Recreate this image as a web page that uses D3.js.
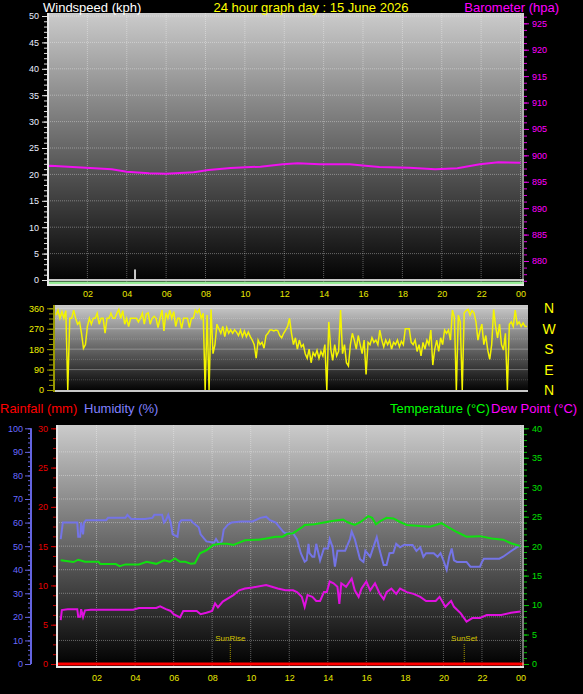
<!DOCTYPE html>
<html>
<head>
<meta charset="utf-8">
<script src="https://cdn.jsdelivr.net/npm/d3@7"></script>
<style>
  body { margin: 0; background: #000; }
  svg { display: block; font-family: "Liberation Sans", Arial, sans-serif; }
</style>
</head>
<body>
<div id="canvas"></div>
<script>
// ---- data ----
const title = "24 hour graph day : 15 June 2026";
const hourTicks = [2, 4, 6, 8, 10, 12, 14, 16, 18, 20, 22, 24];
const windTicks = [0, 5, 10, 15, 20, 25, 30, 35, 40, 45, 50];
const baroTicks = [880, 885, 890, 895, 900, 905, 910, 915, 920, 925];
const dirTicks = [0, 90, 180, 270, 360];
const compass = ["N", "W", "S", "E", "N"];
const compassDeg = [360, 270, 180, 90, 0];
const humTicks = [0, 10, 20, 30, 40, 50, 60, 70, 80, 90, 100];
const rainTicks = [0, 5, 10, 15, 20, 25, 30];
const tempTicks = [0, 5, 10, 15, 20, 25, 30, 35, 40];

// [hour, hPa]
const barometer = [[0,898.0],[0.13,898.05],[1.92,897.67],[3.24,897.35],[4.0,896.91],[5.13,896.6],[5.98,896.53],
  [7.4,896.79],[8.15,897.23],[9.28,897.6],[10.04,897.73],[10.79,897.86],[11.92,898.3],[12.68,898.49],
  [13.81,898.3],[15.32,898.3],[16.26,897.98],[16.83,897.79],[18.35,897.67],[19.67,897.35],[20.79,897.54],
  [21.93,898.3],[22.87,898.68],[24,898.61]];
// [hour, kph]
const windGust = [[4.42, 2]];
const windAvgHours = [0, 24];
const windAvg = [0, 0];

// wind direction, one value every 0.1 h (degrees)
const dirStep = 0.1;
const windDir = [
  330,352,316,345,316,350,0,316,316,352,
  316,290,300,250,184,200,280,316,290,316,
  316,338,290,316,316,250,316,316,338,316,
  316,338,355,316,350,290,316,280,316,316,
  316,316,300,316,338,290,335,340,290,316,
  325,316,275,316,352,260,340,316,352,316,
  345,280,316,316,270,316,316,316,275,316,
  316,352,340,355,316,338,0,330,0,355,
  160,200,290,270,250,280,235,275,250,265,
  250,265,255,240,264,235,260,235,255,235,
  220,200,140,220,200,210,184,240,250,264,
  264,260,264,262,240,230,250,264,280,316,
  250,200,230,180,220,190,200,160,140,180,
  120,165,150,175,140,170,150,200,0,300,
  180,130,200,150,170,352,160,200,120,106,
  200,250,220,180,240,200,160,220,68,210,
  200,230,210,220,200,264,220,190,220,200,
  220,180,210,200,220,190,215,200,270,270,
  270,210,200,220,170,200,150,210,180,220,
  200,264,110,180,220,170,230,200,264,250,
  264,220,352,320,0,330,300,0,340,350,
  355,330,350,340,300,220,260,290,200,240,
  176,135,200,355,280,230,290,200,176,250,
  0,290,300,280,352,290,300,280,295,280,
  280];

// [hour, %]
const humidity = [[0.14,53],[0.25,60],[0.5,60],[0.8,60],[1.0,60],[1.05,54],[1.15,54],[1.2,60],[1.3,55],[1.35,60],
  [1.45,61],[2.0,61],[2.5,61],[2.6,62],[3.5,62],[3.6,63.3],[3.8,61.5],[4.5,61.5],[4.9,62],[5.0,63.3],[5.4,63.3],
  [5.5,60],[5.6,61],[5.72,63.3],[5.85,60],[5.95,55],[6.2,54],[6.3,60],[6.4,61],[6.9,61],[7.0,60],[7.3,58],
  [7.4,55],[7.7,52],[8.1,51.5],[8.2,53],[8.35,51],[8.5,52],[8.6,57],[8.8,59],[9.0,60],[9.5,60.5],[10.1,60.5],
  [10.5,62],[10.8,62.5],[11.0,61],[11.3,60],[11.5,58],[11.7,56],[11.8,55.5],[12.2,55.5],[12.4,53],[12.6,47],
  [12.8,43.4],[12.9,44],[13.0,51],[13.05,47],[13.2,45.5],[13.3,45.5],[13.4,51],[13.6,43.9],[13.8,49],[14.0,49],
  [14.1,53],[14.25,49.5],[14.37,41.3],[14.5,48],[14.9,48],[15.15,53],[15.24,56.2],[15.4,53],[15.67,44.5],
  [15.85,43.3],[15.95,48],[16.2,45.5],[16.36,49.5],[16.54,53.8],[16.7,48],[16.9,42],[17.05,42],[17.2,47],
  [17.4,47.2],[17.55,51],[17.75,49.5],[17.95,50.5],[18.4,50.5],[18.6,48],[18.8,49.5],[18.96,45.5],[19.1,47],
  [19.5,47],[19.7,45.5],[19.85,47],[20.0,44],[20.17,40],[20.3,45.5],[20.43,49],[20.55,44],[20.7,43.3],
  [21.2,43.3],[21.4,41.3],[21.9,41.3],[22.0,43.3],[22.1,44.7],[22.9,44.7],[23.1,45.5],[23.46,47.6],[23.8,49.5],[24,50.3]];
// [hour, °C]
const temperature = [[0.14,17.6],[0.8,17.3],[1.05,17.7],[1.4,17.35],[2.1,17.35],[2.2,16.95],[3.0,16.95],[3.2,16.6],
  [3.5,16.9],[4.2,16.9],[4.6,17.35],[5.1,17.0],[5.5,17.6],[5.8,17.35],[6.07,17.9],[6.33,17.35],[6.6,17.35],
  [6.9,17.0],[7.1,17.1],[7.37,18.8],[7.7,19.3],[8.06,20.2],[8.4,20.4],[8.8,20.4],[9.1,20.2],[9.4,20.6],[9.7,21.0],
  [10.4,21.1],[10.8,21.3],[11.3,21.6],[11.65,21.6],[11.9,22.1],[12.2,22.2],[12.7,23.3],[12.8,23.6],[13.3,23.7],
  [13.95,24.1],[14.3,24.3],[14.8,24.5],[15.0,24.1],[15.4,23.6],[15.7,24.1],[16.1,25.1],[16.3,24.8],[16.5,23.7],
  [16.75,24.3],[17.05,24.8],[17.4,24.7],[17.75,24.1],[18.1,23.6],[18.8,23.4],[19.3,23.3],[19.9,23.9],[20.2,23.3],
  [20.7,22.4],[21.2,21.6],[21.9,21.7],[22.5,21.3],[23.1,21.1],[23.5,20.5],[24,20.0]];
const dewPoint = [[0.14,7.46],[0.2,9.15],[0.5,9.3],[1.0,9.3],[1.05,8.0],[1.15,8.0],[1.2,9.3],[1.3,8.0],[1.4,9.1],
  [1.7,9.2],[3.9,9.2],[4.2,9.5],[5.1,9.5],[5.3,9.8],[5.6,9.3],[5.85,9.0],[6.0,8.45],[6.33,7.9],[6.5,9.0],[7.2,9.0],
  [7.4,8.45],[7.7,8.7],[8.0,9.0],[8.15,10.3],[8.3,9.6],[8.55,10.6],[9.1,11.7],[9.4,12.5],[9.7,12.8],[10.1,13.0],
  [10.8,13.4],[11.1,13.1],[11.4,12.8],[11.8,12.5],[12.2,12.5],[12.4,12.2],[12.65,11.4],[12.8,9.7],[12.95,11.7],
  [13.2,11.4],[13.4,10.7],[13.6,10.7],[13.8,12.2],[13.95,12.2],[14.1,14.0],[14.3,13.7],[14.5,13.1],[14.6,10.2],
  [14.7,13.7],[14.95,13.1],[15.24,14.5],[15.4,12.5],[15.6,11.4],[15.75,12.8],[16.0,14.0],[16.2,12.5],[16.45,13.7],
  [16.7,11.9],[16.9,11.0],[17.05,12.2],[17.3,12.8],[17.55,11.9],[17.75,12.8],[18.1,12.2],[18.45,11.9],[18.8,11.4],
  [19.1,10.7],[19.6,10.7],[19.8,11.4],[20.1,9.7],[20.3,10.4],[20.4,10.7],[20.55,9.7],[20.9,8.6],[21.2,7.2],
  [21.5,7.8],[21.9,7.8],[22.25,8.3],[23.0,8.3],[23.5,8.7],[24,8.9]];
const rainHours = [0, 24];
const rainfall = [0, 0];
const sunEvents = ["SunRise", "SunSet"];
const sunHours = [8.94, 21.08];

// ---- page ----
const width = 583;
const height = 694;

const svg = d3.select("#canvas").append("svg")
  .attr("width", width)
  .attr("height", height)
  .style("background", "#000");

const grad = svg.append("defs").append("linearGradient")
  .attr("id", "bg").attr("x1", 0).attr("y1", 0).attr("x2", 0).attr("y2", 1);
grad.append("stop").attr("offset", "0%").attr("stop-color", "#cbcbcb");
grad.append("stop").attr("offset", "100%").attr("stop-color", "#000");

const hourFmt = h => String(h % 24).padStart(2, "0");

function styleAxis(g, color, lineColor) {
  g.select(".domain").remove();
  g.selectAll("line").attr("stroke", lineColor || color);
  g.selectAll("text").attr("fill", color).style("font-size", "9px");
}

function gridH(g, scale, vals, x0, x1, op) {
  g.append("g").selectAll("line").data(vals).enter().append("line")
    .attr("x1", x0).attr("x2", x1)
    .attr("y1", d => scale(d)).attr("y2", d => scale(d))
    .attr("stroke", "#fff").attr("stroke-opacity", op || 0.35)
    .attr("stroke-dasharray", "1,1");
}
function gridV(g, scale, vals, y0, y1) {
  g.append("g").selectAll("line").data(vals).enter().append("line")
    .attr("y1", y0).attr("y2", y1)
    .attr("x1", d => scale(d)).attr("x2", d => scale(d))
    .attr("stroke", "#fff").attr("stroke-opacity", 0.35)
    .attr("stroke-dasharray", "1,1");
}
function label(txt, x, y, color, anchor, size) {
  svg.append("text").attr("x", x).attr("y", y).attr("fill", color)
    .attr("text-anchor", anchor || "start").style("font-size", (size || 13) + "px").text(txt);
}

// ========== top panel: wind + barometer ==========
const xTop = d3.scaleLinear().domain([0, 24]).range([48, 520.5]);
const yWind = d3.scaleLinear().domain([0, 50]).range([280, 16]);
const yBaro = d3.scaleLinear().domain([880, 925]).range([261, 23.3]);

const topG = svg.append("g");
topG.append("rect").attr("x", 48).attr("y", 13).attr("width", 476).attr("height", 271).attr("fill", "url(#bg)");
gridH(topG, yWind, windTicks.slice(1), 48, 524);
gridV(topG, xTop, hourTicks, 13, 284);

topG.append("line").attr("x1", 48).attr("x2", 524).attr("y1", yWind(0)).attr("y2", yWind(0))
  .attr("stroke", "#c8c8c8").attr("stroke-width", 2);
topG.append("path")
  .datum(windAvgHours.map((h, i) => [h, windAvg[i]]))
  .attr("transform", "translate(0,3)")
  .attr("fill", "none").attr("stroke", "#98ec98").attr("stroke-width", 3)
  .attr("d", d3.line().x(d => d[0] === 0 ? 48 : d[0] === 24 ? 524 : xTop(d[0])).y(d => yWind(d[1])));
topG.selectAll("rect.gust").data(windGust).enter().append("rect")
  .attr("class", "gust")
  .attr("x", d => xTop(d[0]) - 1).attr("width", 2)
  .attr("y", d => yWind(d[1])).attr("height", d => yWind(0) - yWind(d[1]))
  .attr("fill", "#c8c8c8");

topG.append("path").datum(barometer)
  .attr("fill", "none").attr("stroke", "#f010f0").attr("stroke-width", 2)
  .attr("d", d3.line().x(d => xTop(d[0])).y(d => yBaro(d[1])));

// frame
topG.append("line").attr("x1", 48).attr("x2", 48).attr("y1", 13).attr("y2", 285).attr("stroke", "#e8e8e8").attr("stroke-width", 2);
topG.append("line").attr("x1", 47).attr("x2", 524).attr("y1", 285).attr("y2", 285).attr("stroke", "#e8e8e8").attr("stroke-width", 2);
topG.append("line").attr("x1", 523).attr("x2", 523).attr("y1", 13).attr("y2", 285).attr("stroke", "#d8d8d8").attr("stroke-width", 1);

// wind axis
topG.append("g").attr("transform", "translate(47,0)")
  .call(d3.axisLeft(yWind).tickValues(d3.range(0, 51, 1)).tickSize(3).tickFormat(""))
  .call(g => styleAxis(g, "#e0e0e0"));
topG.append("g").attr("transform", "translate(47,0)")
  .call(d3.axisLeft(yWind).tickValues(windTicks).tickSize(5).tickPadding(3))
  .call(g => styleAxis(g, "#e8eeff", "#e0e0e0"));

// baro axis
topG.append("g").attr("transform", "translate(524,0)")
  .call(d3.axisRight(yBaro).tickValues(d3.range(876.25, 926.3, 1.25)).tickSize(3).tickFormat(""))
  .call(g => styleAxis(g, "#e000e0"));
topG.append("g").attr("transform", "translate(524,0)")
  .call(d3.axisRight(yBaro).tickValues(baroTicks).tickSize(5).tickPadding(3))
  .call(g => styleAxis(g, "#ff00ff", "#e000e0"));

// hour labels
topG.append("g").attr("transform", "translate(0,285)")
  .call(d3.axisBottom(xTop).tickValues(hourTicks).tickFormat(hourFmt).tickSize(0).tickPadding(6))
  .call(g => styleAxis(g, "#e8e800"));

label("Windspeed (kph)", 43, 12, "#ffffff");
label(title, 311, 12, "#ffff00", "middle");
label("Barometer (hpa)", 559, 12, "#ff00ff", "end");

// ========== middle panel: wind direction ==========
const xMid = d3.scaleLinear().domain([0, 24]).range([56, 527]);
const yDir = d3.scaleLinear().domain([0, 360]).range([390, 308.3]);

const midG = svg.append("g");
midG.append("rect").attr("x", 55).attr("y", 305).attr("width", 473).attr("height", 87).attr("fill", "url(#bg)");
gridH(midG, yDir, [45, 135, 225, 315], 55, 528, 0.18);
midG.append("g").selectAll("line").data([90, 180, 270, 360]).enter().append("line")
  .attr("x1", 55).attr("x2", 528).attr("y1", d => yDir(d)).attr("y2", d => yDir(d))
  .attr("stroke", "#fff").attr("stroke-opacity", 0.3);
midG.append("line").attr("x1", 55).attr("x2", 528).attr("y1", 391).attr("y2", 391)
  .attr("stroke", "#c8c8c8").attr("stroke-width", 2);

midG.append("path").datum(windDir)
  .attr("fill", "none").attr("stroke", "#f4f400").attr("stroke-width", 1.5)
  .attr("d", d3.line().x((d, i) => xMid(i * dirStep)).y(d => yDir(d)));

midG.append("line").attr("x1", 54).attr("x2", 54).attr("y1", 305).attr("y2", 392).attr("stroke", "#9a9a00").attr("stroke-width", 2);
midG.append("g").attr("transform", "translate(53,0)")
  .call(d3.axisLeft(yDir).tickValues(d3.range(0, 361, 22.5)).tickSize(4).tickFormat(""))
  .call(g => styleAxis(g, "#9a9a00"));
midG.append("g").attr("transform", "translate(53,0)")
  .call(d3.axisLeft(yDir).tickValues(dirTicks).tickSize(6).tickPadding(3))
  .call(g => styleAxis(g, "#f0f000", "#9a9a00"));

midG.append("g").selectAll("text").data(compass).enter().append("text")
  .attr("x", 549).attr("y", (d, i) => yDir(compassDeg[i]) + 5)
  .attr("text-anchor", "middle").attr("fill", "#ffff00").style("font-size", "14px")
  .text(d => d);

// ========== bottom panel: temp / humidity / rain ==========
const xBot = d3.scaleLinear().domain([0, 24]).range([58, 520.5]);
const yHum = d3.scaleLinear().domain([0, 100]).range([664, 428.3]);
const yRain = d3.scaleLinear().domain([0, 30]).range([664, 428.3]);
const yTemp = d3.scaleLinear().domain([0, 40]).range([664, 428.3]);

const botG = svg.append("g");
botG.append("rect").attr("x", 57).attr("y", 425).attr("width", 467).attr("height", 242).attr("fill", "url(#bg)");
gridH(botG, yHum, [10, 20, 30, 40, 50, 60, 70, 80, 90], 57, 524);
gridV(botG, xBot, hourTicks, 425, 667);

// sunrise / sunset
const sun = botG.append("g").selectAll("g").data(sunEvents).enter().append("g");
sun.append("line")
  .attr("x1", (d, i) => xBot(sunHours[i])).attr("x2", (d, i) => xBot(sunHours[i]))
  .attr("y1", 644).attr("y2", 664)
  .attr("stroke", "#a89a00").attr("stroke-dasharray", "1,1");
sun.append("text")
  .attr("x", (d, i) => xBot(sunHours[i])).attr("y", 641)
  .attr("text-anchor", "middle").attr("fill", "#d4c400").style("font-size", "8px")
  .text(d => d);

botG.append("path").datum(rainHours.map((h, i) => [h, rainfall[i]]))
  .attr("fill", "none").attr("stroke", "#ff0000").attr("stroke-width", 3)
  .attr("d", d3.line().x(d => d[0] === 0 ? 57 : d[0] === 24 ? 524 : xBot(d[0])).y(d => yRain(d[1])));

botG.append("path").datum(humidity)
  .attr("fill", "none").attr("stroke", "#7474e6").attr("stroke-width", 2)
  .attr("d", d3.line().x(d => xBot(d[0])).y(d => yHum(d[1])));
botG.append("path").datum(temperature)
  .attr("fill", "none").attr("stroke", "#10e010").attr("stroke-width", 2)
  .attr("d", d3.line().x(d => xBot(d[0])).y(d => yTemp(d[1])));
botG.append("path").datum(dewPoint)
  .attr("fill", "none").attr("stroke", "#e010e0").attr("stroke-width", 2)
  .attr("d", d3.line().x(d => xBot(d[0])).y(d => yTemp(d[1])));

// frame
botG.append("line").attr("x1", 57).attr("x2", 57).attr("y1", 425).attr("y2", 668).attr("stroke", "#e8e8e8").attr("stroke-width", 2);
botG.append("line").attr("x1", 56).attr("x2", 524).attr("y1", 667).attr("y2", 667).attr("stroke", "#e8e8e8").attr("stroke-width", 2);
botG.append("line").attr("x1", 523).attr("x2", 523).attr("y1", 425).attr("y2", 667).attr("stroke", "#d8d8d8").attr("stroke-width", 1);

// humidity axis
botG.append("line").attr("x1", 31).attr("x2", 31).attr("y1", yHum(100)).attr("y2", yHum(0)).attr("stroke", "#6464e0").attr("stroke-width", 2);
botG.append("g").attr("transform", "translate(31,0)")
  .call(d3.axisLeft(yHum).tickValues(d3.range(0, 101, 2)).tickSize(3).tickFormat(""))
  .call(g => styleAxis(g, "#6464e0"));
botG.append("g").attr("transform", "translate(31,0)")
  .call(d3.axisLeft(yHum).tickValues(humTicks).tickSize(6).tickPadding(2))
  .call(g => styleAxis(g, "#6a6aff", "#6464e0"));

// rain axis
botG.append("g").attr("transform", "translate(56,0)")
  .call(d3.axisLeft(yRain).tickValues(d3.range(0, 30.1, 1.25)).tickSize(3).tickFormat(""))
  .call(g => styleAxis(g, "#c00000"));
botG.append("g").attr("transform", "translate(56,0)")
  .call(d3.axisLeft(yRain).tickValues(rainTicks).tickSize(5).tickPadding(3))
  .call(g => styleAxis(g, "#e80000", "#d00000"));

// temperature axis
botG.append("g").attr("transform", "translate(524,0)")
  .call(d3.axisRight(yTemp).tickValues(d3.range(0, 41, 1)).tickSize(3).tickFormat(""))
  .call(g => styleAxis(g, "#00c000"));
botG.append("g").attr("transform", "translate(524,0)")
  .call(d3.axisRight(yTemp).tickValues(tempTicks).tickSize(5).tickPadding(3))
  .call(g => styleAxis(g, "#00e000", "#00c000"));

botG.append("g").attr("transform", "translate(0,667)")
  .call(d3.axisBottom(xBot).tickValues(hourTicks).tickFormat(hourFmt).tickSize(0).tickPadding(8))
  .call(g => styleAxis(g, "#e8e800"));

label("Rainfall (mm)", 0, 413, "#ff0000");
label("Humidity (%)", 84, 413, "#8080ff");
label("Temperature (°C)", 390, 413, "#00ff00");
label("Dew Point (°C)", 491, 413, "#ff00ff");
</script>
</body>
</html>
